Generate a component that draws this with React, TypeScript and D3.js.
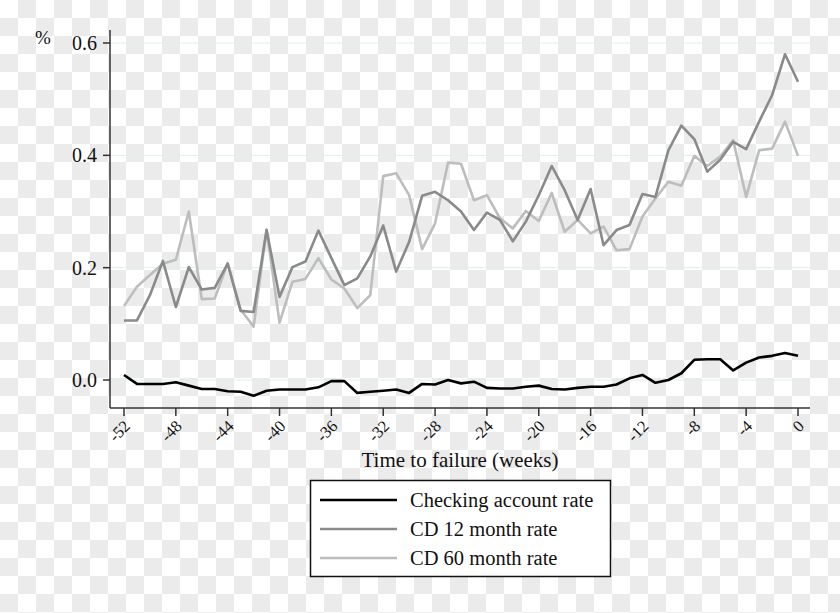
import React from "react";
import * as d3 from "d3";

const weeks: number[] = d3.range(-52, 1);

const checking: number[] = [
  0.009, -0.007, -0.007, -0.007, -0.004, -0.010, -0.016, -0.016, -0.020, -0.021,
  -0.028, -0.019, -0.017, -0.017, -0.017, -0.013, -0.002, -0.002, -0.023, -0.021,
  -0.019, -0.017, -0.023, -0.007, -0.008, 0.000, -0.006, -0.003, -0.014, -0.015,
  -0.015, -0.012, -0.010, -0.016, -0.017, -0.014, -0.012, -0.012, -0.008, 0.003,
  0.009, -0.005, 0.000, 0.012, 0.036, 0.037, 0.037, 0.017, 0.031, 0.040,
  0.043, 0.048, 0.043,
];

const cd12: number[] = [
  0.106, 0.106, 0.151, 0.212, 0.130, 0.201, 0.161, 0.164, 0.207, 0.123,
  0.121, 0.267, 0.148, 0.201, 0.211, 0.266, 0.217, 0.169, 0.181, 0.220,
  0.275, 0.193, 0.246, 0.328, 0.335, 0.320, 0.300, 0.267, 0.298, 0.285,
  0.247, 0.282, 0.329, 0.381, 0.338, 0.285, 0.340, 0.240, 0.267, 0.276,
  0.331, 0.326, 0.409, 0.453, 0.429, 0.371, 0.392, 0.424, 0.411, 0.460,
  0.507, 0.580, 0.531,
];

const cd60: number[] = [
  0.132, 0.166, 0.187, 0.207, 0.214, 0.300, 0.144, 0.145, 0.208, 0.125,
  0.095, 0.268, 0.102, 0.175, 0.180, 0.217, 0.179, 0.163, 0.128, 0.151,
  0.363, 0.368, 0.329, 0.233, 0.279, 0.387, 0.385, 0.320, 0.329, 0.288,
  0.270, 0.301, 0.283, 0.333, 0.264, 0.285, 0.261, 0.273, 0.231, 0.233,
  0.291, 0.323, 0.353, 0.346, 0.399, 0.381, 0.398, 0.427, 0.326, 0.409,
  0.412, 0.460, 0.399,
];

const xTicks: number[] = d3.range(-52, 1, 4);
const yTicks: number[] = [0, 0.2, 0.4, 0.6];

const seriesNames: string[] = ["Checking account rate", "CD 12 month rate", "CD 60 month rate"];
const seriesColors: string[] = ["#000000", "#8a8a8a", "#bdbdbd"];

const W = 840;
const H = 613;
const FONT = "'Liberation Serif', 'Times New Roman', serif";

export default function App() {
  const x = d3.scaleLinear().domain([-52, 0]).range([124, 798]);
  const y = d3.scaleLinear().domain([0, 0.6]).range([380, 43]);
  const axisLeft = 110;
  const axisBottom = 408;
  const axisRight = 810;
  const axisTop = 30;

  const line = d3
    .line<number>()
    .x((_, i) => x(weeks[i]))
    .y((d) => y(d));

  const seriesData = [checking, cd12, cd60];
  const cell = 18;
  const cols = Math.ceil(W / cell);
  const rows = Math.ceil(H / cell);
  const cells: JSX.Element[] = [];
  for (let r = 0; r < rows; r++) {
    for (let c = 0; c < cols; c++) {
      if ((r + c) % 2 === 1) {
        cells.push(
          <rect key={`${r}-${c}`} x={c * cell} y={r * cell} width={cell} height={cell} fill="#ebebeb" />
        );
      }
    }
  }

  const legendX = 310.5;
  const legendY = 480.5;
  const legendRows = [500, 529, 558];

  return (
    <svg
      width={W}
      height={H}
      style={{ position: "absolute", left: 0, top: 0, display: "block" }}
      fontFamily={FONT}
    >
      <rect x={0} y={0} width={W} height={H} fill="#ffffff" />
      {cells}

      {/* gridlines */}
      {yTicks.map((t) => (
        <line key={"g" + t} x1={axisLeft} x2={axisRight} y1={y(t)} y2={y(t)} stroke="#dcefef" strokeWidth={1} />
      ))}

      {/* series lines, drawn light to dark */}
      {[2, 1, 0].map((k) => (
        <path
          key={"s" + k}
          d={line(seriesData[k]) || ""}
          fill="none"
          stroke={seriesColors[k]}
          strokeWidth={2.6}
          strokeLinejoin="round"
        />
      ))}

      {/* axes */}
      <line x1={axisLeft} x2={axisLeft} y1={axisTop} y2={axisBottom} stroke="#333" strokeWidth={1.5} />
      <line x1={axisLeft} x2={axisRight} y1={axisBottom} y2={axisBottom} stroke="#333" strokeWidth={1.5} />

      {yTicks.map((t) => (
        <g key={"yt" + t}>
          <line x1={axisLeft - 7} x2={axisLeft} y1={y(t)} y2={y(t)} stroke="#333" strokeWidth={1.5} />
          <text x={97} y={y(t)} dy="0.35em" textAnchor="end" fontSize={20} fill="#111">
            {t.toFixed(1)}
          </text>
        </g>
      ))}
      <text x={43} y={37} dy="0.35em" textAnchor="middle" fontSize={19} fill="#111">
        %
      </text>

      {xTicks.map((t) => (
        <g key={"xt" + t}>
          <line x1={x(t)} x2={x(t)} y1={axisBottom} y2={axisBottom + 8} stroke="#333" strokeWidth={1.5} />
          <text
            transform={`translate(${x(t) + 3},${axisBottom + 15}) rotate(-45)`}
            dy="0.35em"
            textAnchor="end"
            fontSize={16.5}
            fill="#111"
          >
            {String(t)}
          </text>
        </g>
      ))}

      <text x={460} y={467} textAnchor="middle" fontSize={21} fill="#111">
        Time to failure (weeks)
      </text>

      {/* legend */}
      <rect x={legendX} y={legendY} width={300} height={96} fill="#ffffff" stroke="#111" strokeWidth={1.5} />
      {seriesNames.map((name, i) => (
        <g key={"l" + i}>
          <line x1={320} x2={397} y1={legendRows[i]} y2={legendRows[i]} stroke={seriesColors[i]} strokeWidth={2.6} />
          <text x={410} y={legendRows[i]} dy="0.35em" fontSize={20.5} fill="#111">
            {name}
          </text>
        </g>
      ))}
    </svg>
  );
}
